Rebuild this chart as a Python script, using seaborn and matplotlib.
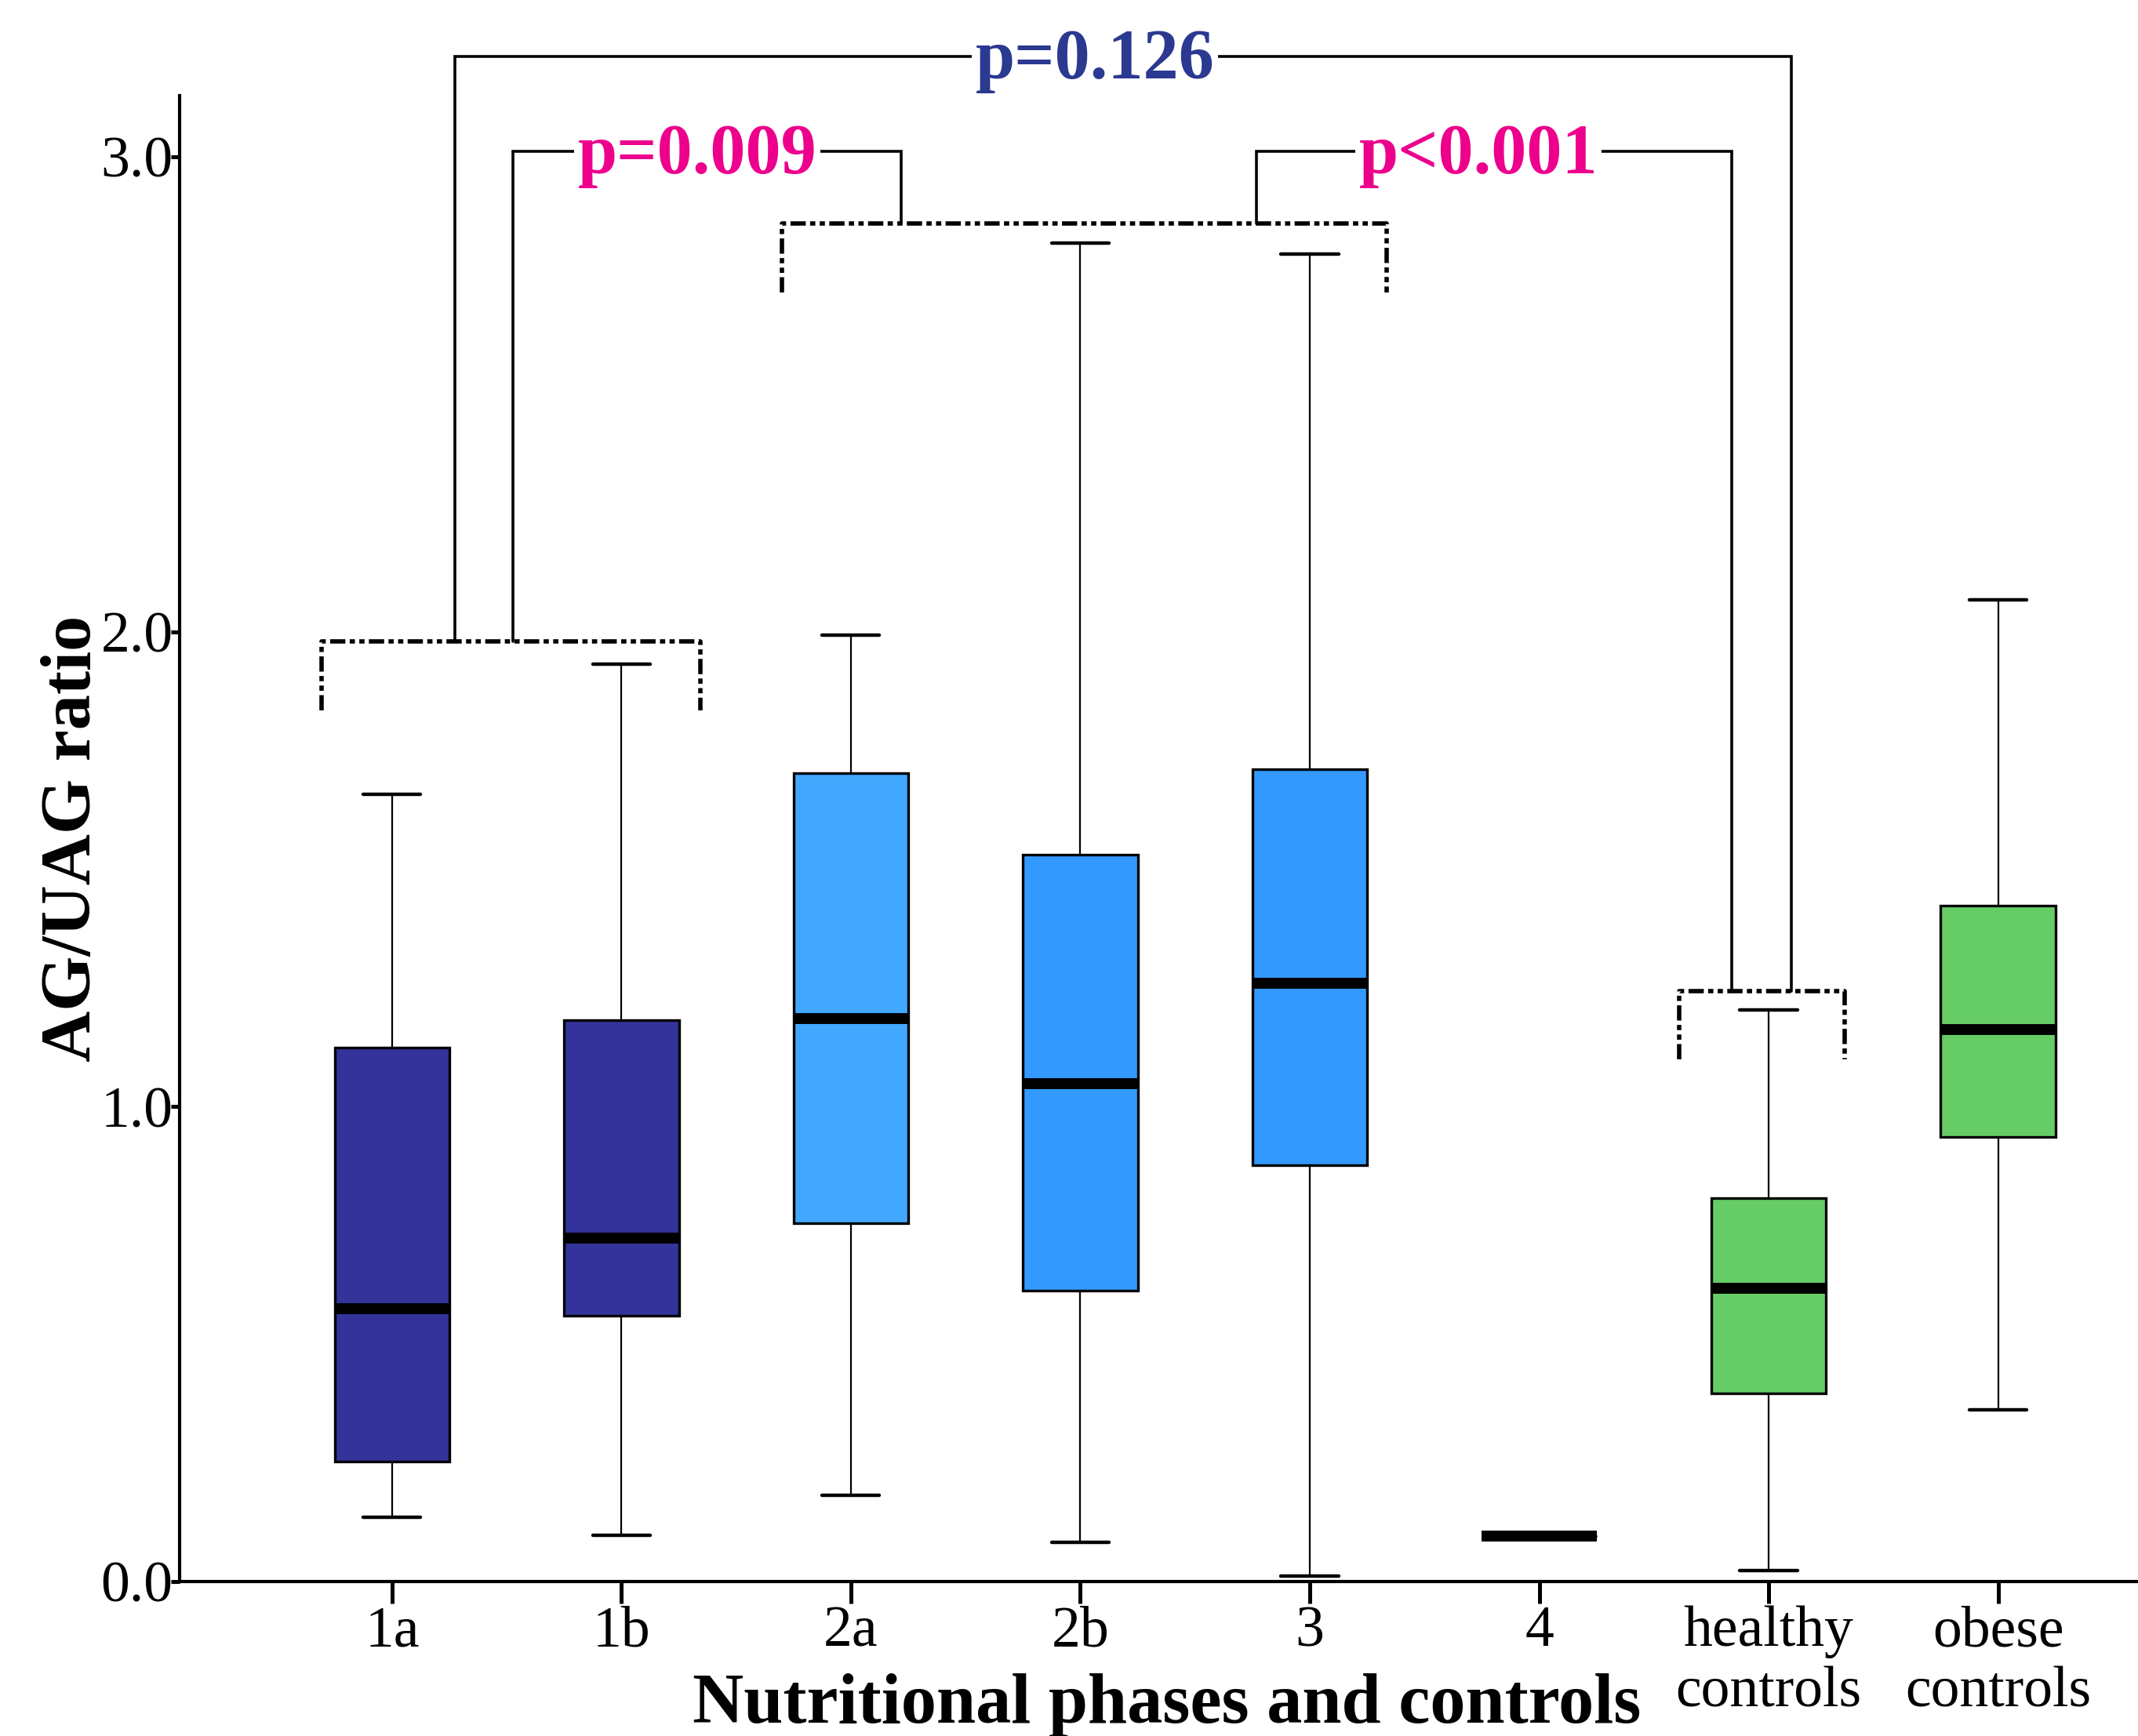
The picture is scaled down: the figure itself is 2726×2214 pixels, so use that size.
import numpy as np
import pandas as pd
import matplotlib
matplotlib.use('Agg')
import matplotlib.pyplot as plt
import seaborn as sns

sns.set_style('ticks')
plt.rcParams['font.family'] = ['Liberation Serif', 'DejaVu Serif']
plt.rcParams['text.color'] = 'black'
plt.rcParams['axes.labelcolor'] = 'black'
plt.rcParams['axes.edgecolor'] = 'black'
plt.rcParams['xtick.color'] = 'black'
plt.rcParams['ytick.color'] = 'black'

# groups and their box statistics (whisker low, Q1, median, Q3, whisker high)
groups = ['1a', '1b', '2a', '2b', '3', '4', 'healthy\ncontrols', 'obese\ncontrols']
whisker_low = [0.135, 0.098, 0.181, 0.083, 0.011, 0.095, 0.023, 0.362]
q1 = [0.253, 0.560, 0.755, 0.612, 0.876, 0.095, 0.396, 0.936]
median = [0.574, 0.724, 1.186, 1.048, 1.260, 0.095, 0.617, 1.163]
q3 = [1.125, 1.183, 1.703, 1.530, 1.711, 0.095, 0.807, 1.424]
whisker_high = [1.657, 1.932, 1.993, 2.819, 2.796, 0.095, 1.203, 2.067]

colors = ['#333399', '#333399', '#42A8FF', '#3399FF', '#3399FF', '#3399FF', '#66CC66', '#66CC66']

rows = []
for i, g in enumerate(groups):
    for v in (whisker_low[i], q1[i], median[i], q3[i], whisker_high[i]):
        rows.append({'group': g, 'ratio': v})
df = pd.DataFrame(rows)

fig = plt.figure(figsize=(27.26, 22.14), dpi=100)
ax = fig.add_axes([229 / 2726, 197 / 2214, (2726 - 229) / 2726, (2017 - 122) / 2214])

sns.boxplot(data=df, x='group', y='ratio', hue='group', order=groups,
            palette=dict(zip(groups, colors)), saturation=1, legend=False, whis=(0, 100),
            width=0.5, linecolor='black', linewidth=2.4, ax=ax,
            medianprops=dict(linewidth=10, color='black', solid_capstyle='butt'),
            whiskerprops=dict(linewidth=1.6, color='black'),
            capprops=dict(linewidth=3.2, color='black'),
            boxprops=dict(linewidth=2.4, edgecolor='black'))

ax.set_xlim(-0.926, 7.61)
ax.set_ylim(0, 3.129)
ax.set_yticks([0, 1, 2, 3])
ax.set_yticklabels(['0.0', '1.0', '2.0', '3.0'])
sns.despine(ax=ax)
ax.spines['left'].set_linewidth(3)
ax.spines['bottom'].set_linewidth(3)
ax.tick_params(axis='x', length=20, width=3.6, labelsize=53, pad=2)
ax.tick_params(axis='y', length=8, width=3.6, labelsize=53, pad=-2)

ax.set_xlabel('Nutritional phases and controls', fontsize=65, fontweight='bold')
ax.set_ylabel('AG/UAG ratio', fontsize=65, fontweight='bold')
ax.xaxis.set_label_coords(0.504, -0.062)
ax.yaxis.set_label_coords(-0.038, 0.5)

# significance brackets
solid_kw = dict(color='black', lw=2.6, clip_on=False, solid_joinstyle='miter')
dash_kw = dict(color='black', lw=4, clip_on=False, linestyle=(0, (3.5, 1, 1.2, 1, 1.2, 1)))

ax.plot([-0.308, -0.308, 1.344, 1.344], [1.834, 1.979, 1.979, 1.834], **dash_kw)
ax.plot([1.699, 1.699, 4.335, 4.335], [2.714, 2.860, 2.860, 2.714], **dash_kw)
ax.plot([5.610, 5.610, 6.332, 6.332], [1.100, 1.243, 1.243, 1.100], **dash_kw)

ax.plot([0.274, 0.274, 6.099, 6.099], [1.979, 3.211, 3.211, 1.243], **solid_kw)
ax.plot([0.526, 0.526, 2.219, 2.219], [1.979, 3.011, 3.011, 2.860], **solid_kw)
ax.plot([3.767, 3.767, 5.839, 5.839], [2.860, 3.011, 3.011, 1.243], **solid_kw)

txt_kw = dict(fontsize=65, fontweight='bold', ha='center', va='baseline', clip_on=False,
              bbox=dict(facecolor='white', edgecolor='none', pad=3))
ax.text(3.063, 3.211 - 0.046, 'p=0.126', color='#2B3990', **txt_kw)
ax.text(1.33, 3.011 - 0.045, 'p=0.009', color='#EC008C', **txt_kw)
ax.text(4.735, 3.011 - 0.045, 'p<0.001', color='#EC008C', **txt_kw)

fig.savefig('out.png', dpi=100)
